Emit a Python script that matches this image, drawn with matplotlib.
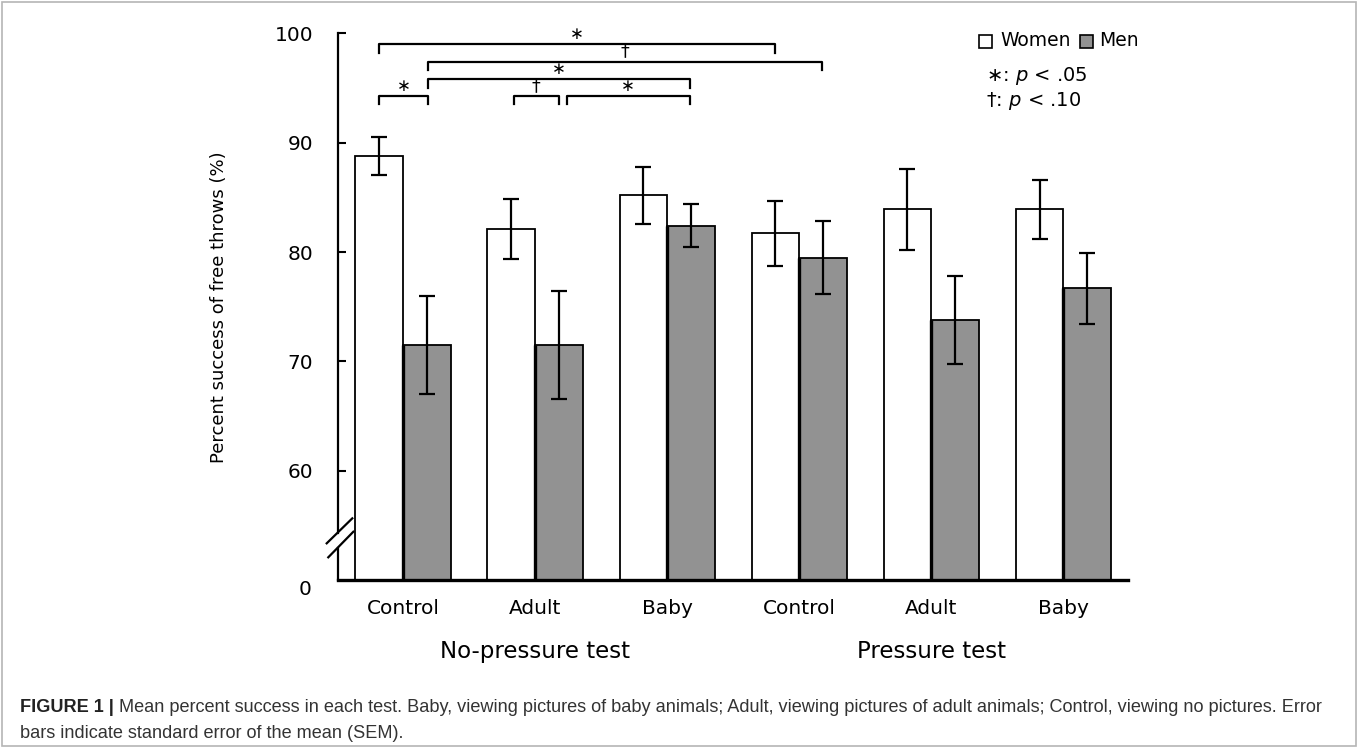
import numpy as np
import matplotlib
matplotlib.use("Agg")
import matplotlib.pyplot as plt
from matplotlib.patches import Rectangle
from matplotlib.lines import Line2D

# ---- data ----
conditions = ["Control", "Adult", "Baby", "Control", "Adult", "Baby"]
tests = ["No-pressure test", "Pressure test"]
women_mean = [88.8, 82.1, 85.2, 81.7, 83.9, 83.9]
women_sem = [1.75, 2.75, 2.6, 2.95, 3.7, 2.7]
men_mean = [71.5, 71.5, 82.4, 79.5, 73.8, 76.7]
men_sem = [4.5, 4.9, 1.95, 3.3, 4.0, 3.25]
ytick_vals = [60, 70, 80, 90, 100]

# significance brackets: (x from, x to, height, mark)
sig_x1 = [-0.18, 0.19, 0.19, -0.18, 0.84, 1.24]
sig_x2 = [2.82, 3.17, 2.17, 0.19, 1.18, 2.17]
sig_y = [99.0, 97.4, 95.8, 94.25, 94.25, 94.25]
sig_mark = ["∗", "†", "∗", "∗", "†", "∗"]

W, H = 1360, 748
fig = plt.figure(figsize=(W / 100, H / 100), dpi=100)
plt.rcParams['font.family'] = ['DejaVu Sans']

def fx(px):
    return px / W

def fy(py):
    return 1 - py / H

ax = fig.add_axes([fx(338), fy(580), (1128 - 338) / W, (580 - 33.4) / H])

x = np.arange(len(conditions))
bw = 0.36
gray = '#929292'
err_kw = dict(ecolor='black', elinewidth=1.6, capsize=6, capthick=1.6)
ax.bar(x - bw / 2, np.array(women_mean) - 50, bw, bottom=50, color='white',
       edgecolor='black', linewidth=1.3, yerr=women_sem, error_kw=err_kw, zorder=2)
ax.bar(x + bw / 2, np.array(men_mean) - 50, bw, bottom=50, color=gray,
       edgecolor='black', linewidth=1.3, yerr=men_sem, error_kw=err_kw, zorder=2)
# thicker dividing edge on the left of the men bars
for xi in x:
    ax.plot([xi, xi], [50, men_mean[xi]], color='black', lw=2.4, zorder=3,
            solid_capstyle='butt')

ax.set_xlim(-0.492, 5.49)
ax.set_ylim(50, 100)
ax.set_xticks(x)
ax.set_xticklabels(conditions, fontsize=14.5)
ax.tick_params(axis='x', length=0, pad=14)
ax.set_yticks(ytick_vals)
ax.set_yticklabels([str(v) for v in ytick_vals], fontsize=14.5)
ax.tick_params(axis='y', direction='in', length=6, width=1.5, pad=18)

for s in ['top', 'right', 'left']:
    ax.spines[s].set_visible(False)
ax.spines['bottom'].set_linewidth(2.4)

# left spine with a break near the bottom
ax.add_line(Line2D([0, 0], [0, 0.059], transform=ax.transAxes, color='black',
                   lw=1.6, clip_on=False))
ax.add_line(Line2D([0, 0], [0.0867, 1], transform=ax.transAxes, color='black',
                   lw=1.6, clip_on=False))
ax.add_line(Line2D([-0.0143, 0.0181], [0.0671, 0.1128], transform=ax.transAxes,
                   color='black', lw=1.6, clip_on=False))
ax.add_line(Line2D([-0.0123, 0.0194], [0.0415, 0.0883], transform=ax.transAxes,
                   color='black', lw=1.6, clip_on=False))
ax.text(-0.042, -0.018, "0", transform=ax.transAxes, ha='center', va='center',
        fontsize=14.5)

ax.set_ylabel("Percent success of free throws (%)", fontsize=13)
ax.yaxis.set_label_coords(-0.139, 0.5)

# group labels
ax.text(1, -0.13, tests[0], transform=ax.get_xaxis_transform(), ha='center',
        va='center', fontsize=16.5)
ax.text(4, -0.13, tests[1], transform=ax.get_xaxis_transform(), ha='center',
        va='center', fontsize=16.5)

# significance brackets
leg = 0.75
for x1, x2, yb, m in zip(sig_x1, sig_x2, sig_y, sig_mark):
    ax.plot([x1, x1, x2, x2], [yb - leg, yb, yb, yb - leg], color='black',
            lw=1.6, clip_on=False, zorder=4)
    ax.text((x1 + x2) / 2, yb + 0.12, m, ha='center', va='bottom',
            fontsize=12 if m == "∗" else 12.5, clip_on=False)

# legend
fig.patches.append(Rectangle((fx(979), fy(48)), 13 / W, 13 / H, transform=fig.transFigure,
                             facecolor='white', edgecolor='black', lw=1.2))
fig.patches.append(Rectangle((fx(1080), fy(48)), 13 / W, 13 / H, transform=fig.transFigure,
                             facecolor=gray, edgecolor='black', lw=1.2))
fig.text(fx(1000), fy(41), "Women", ha='left', va='center', fontsize=13.5)
fig.text(fx(1099), fy(41), "Men", ha='left', va='center', fontsize=13.5)
fig.text(fx(986), fy(76), r"∗: $\it{p}$ < .05", ha='left', va='center', fontsize=14)
fig.text(fx(986), fy(101), r"†: $\it{p}$ < .10", ha='left', va='center', fontsize=14)

# caption
cap_font = ['Liberation Sans', 'DejaVu Sans']
cap_line1 = (" Mean percent success in each test. Baby, viewing pictures of baby animals; "
             "Adult, viewing pictures of adult animals; Control, viewing no pictures. Error")
t1 = fig.text(fx(20), fy(707), "FIGURE 1 |", ha='left', va='center', fontsize=13.1,
              fontweight='bold', family=cap_font, color='#222222')
ax.annotate(cap_line1, xy=(1, 0.5), xycoords=t1, ha='left', va='center', fontsize=13.1,
            family=cap_font, color='#333333', annotation_clip=False)
fig.text(fx(20), fy(733), "bars indicate standard error of the mean (SEM).", ha='left',
         va='center', fontsize=13.1, family=cap_font, color='#333333')

# figure frame
fig.patches.append(Rectangle((fx(2), fy(746)), (1356 - 2) / W, (746 - 2) / H,
                             transform=fig.transFigure, facecolor='none',
                             edgecolor='#b5b5b5', lw=1.2))

fig.savefig("out.png", dpi=100)
